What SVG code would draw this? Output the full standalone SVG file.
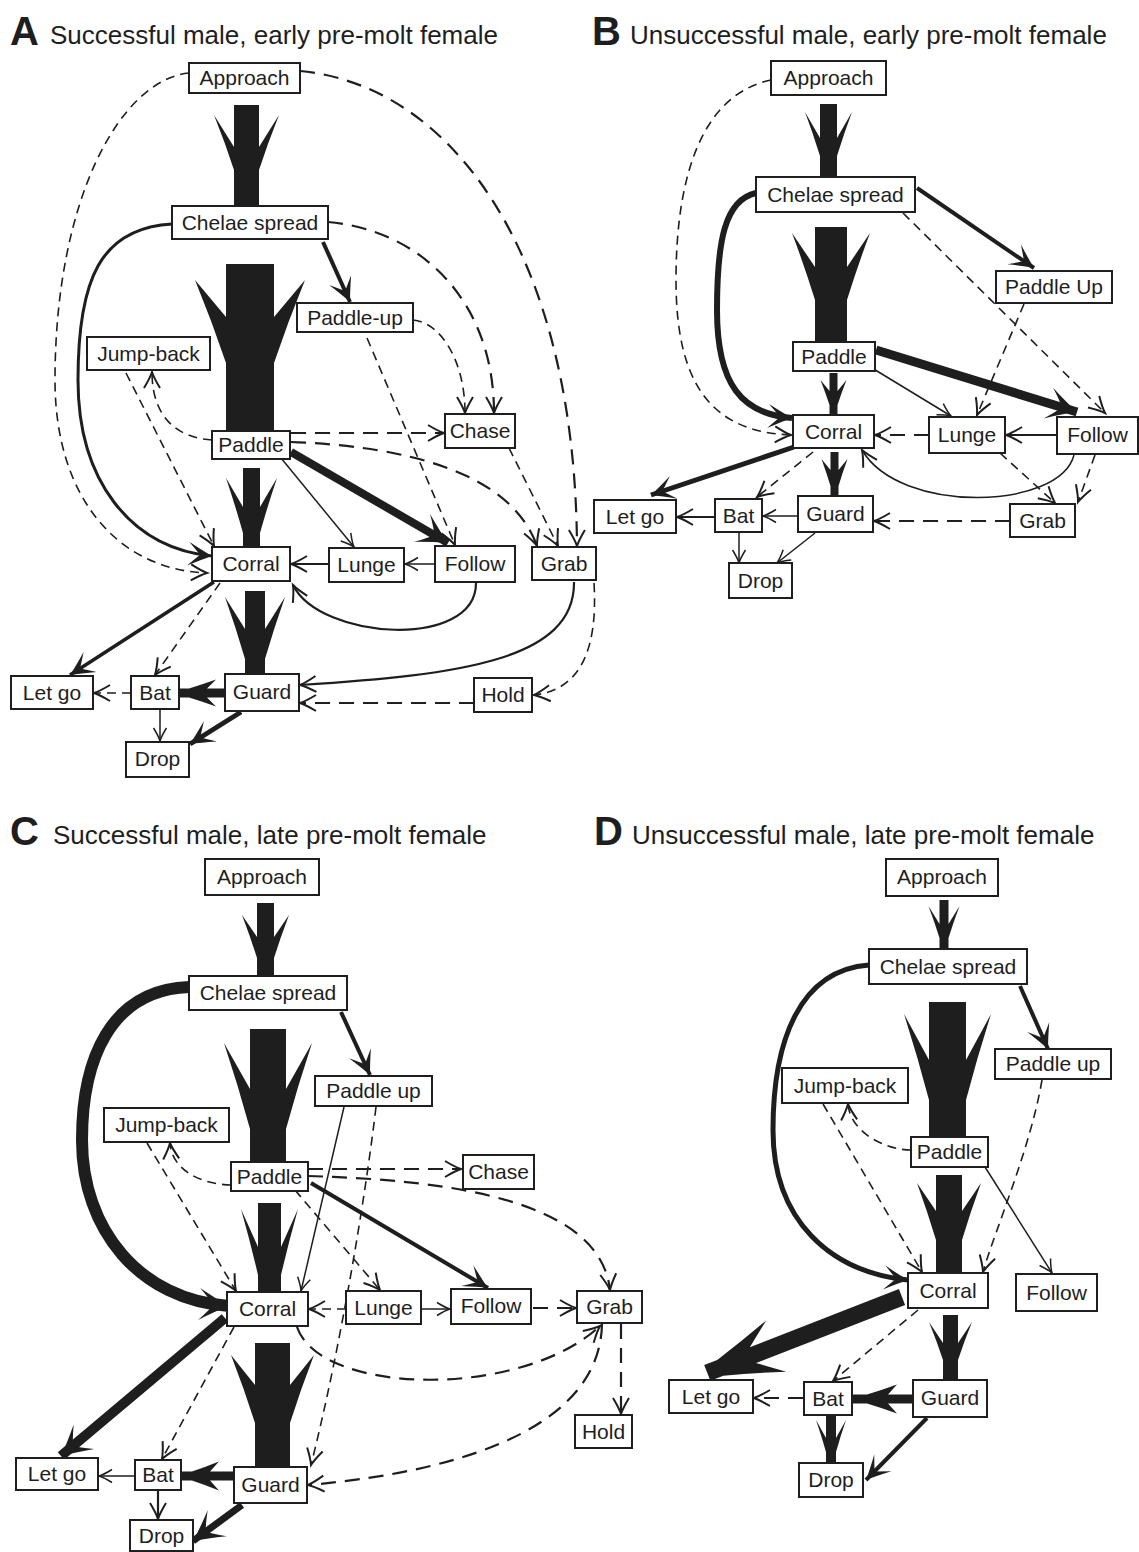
<svg xmlns="http://www.w3.org/2000/svg" width="1139" height="1552" viewBox="0 0 1139 1552">
<style>
.n rect{fill:#fff;stroke:#1e1e1e;stroke-width:2}
.n text{font-family:"Liberation Sans",Arial,sans-serif;font-size:21px;text-anchor:middle;fill:#1e1e1e}
.ttl{font-family:"Liberation Sans",Arial,sans-serif;font-size:26px;fill:#1e1e1e}
.ltr{font-family:"Liberation Sans",Arial,sans-serif;font-size:40px;font-weight:bold;fill:#1e1e1e}
.c path{fill:none;stroke:#1e1e1e}
.c path.bar{fill:#1e1e1e;stroke:none}
.c .t{stroke-width:1.5}
.c .t2{stroke-width:2.2}
.c .m{stroke-width:4}
.c .d{stroke-width:1.6;stroke-dasharray:9 6}
.c .dl{stroke-width:2.2;stroke-dasharray:15 9}
</style>
<defs>
<marker id="s" viewBox="-30 -15 32 30" refX="0" refY="0" markerWidth="32" markerHeight="30" markerUnits="userSpaceOnUse" orient="auto" overflow="visible">
<path d="M-13,-6.5 Q-5,-1.5 0,0 Q-5,1.5 -13,6.5" fill="none" stroke="#1e1e1e" stroke-width="1.5"/>
</marker>
<marker id="sm" viewBox="-30 -15 32 30" refX="0" refY="0" markerWidth="32" markerHeight="30" markerUnits="userSpaceOnUse" orient="auto" overflow="visible">
<path d="M-16,-8 Q-6,-2 0,0 Q-6,2 -16,8" fill="none" stroke="#1e1e1e" stroke-width="2"/>
</marker>
<marker id="mm" viewBox="-30 -15 32 30" refX="0" refY="0" markerWidth="32" markerHeight="30" markerUnits="userSpaceOnUse" orient="auto" overflow="visible">
<path d="M0,0 Q-10,-4.5 -24,-12 Q-15,-3 -12,0 Q-15,3 -24,12 Q-10,4.5 0,0 Z" fill="#1e1e1e"/>
</marker>
<marker id="lm" viewBox="-40 -20 42 40" refX="0" refY="0" markerWidth="42" markerHeight="40" markerUnits="userSpaceOnUse" orient="auto" overflow="visible">
<path d="M0,0 Q-13,-6 -30,-16 Q-19,-5 -16,0 Q-19,5 -30,16 Q-13,6 0,0 Z" fill="#1e1e1e"/>
</marker>
</defs>
<rect width="1139" height="1552" fill="#fff"/>

<g id="titles">
<text class="ltr" x="10" y="45">A</text><text class="ttl" x="50" y="44">Successful male, early pre-molt female</text>
<text class="ltr" x="592" y="45">B</text><text class="ttl" x="630" y="44">Unsuccessful male, early pre-molt female</text>
<text class="ltr" x="10" y="845">C</text><text class="ttl" x="53" y="844">Successful male, late pre-molt female</text>
<text class="ltr" x="594" y="845">D</text><text class="ttl" x="632" y="844">Unsuccessful male, late pre-molt female</text>
</g>

<g id="connectors" class="c">
<!-- Panel A -->
<path class="bar" transform="translate(246.5,105)" d="M-12.5,0H12.5V42L32.5,10Q21.5,37.5 12.5,65V100H-12.5V65Q-21.5,37.5 -32.5,10L-12.5,42Z"/>
<path class="bar" transform="translate(250,264)" d="M-24,0H24V53L55,16Q38,57.5 24,99V167H-24V99Q-38,57.5 -55,16L-24,53Z"/>
<path class="bar" transform="translate(251.5,468)" d="M-8.5,0H8.5V39L25.5,10Q16.2,37.5 8.5,65V79H-8.5V65Q-16.2,37.5 -25.5,10L-8.5,39Z"/>
<path class="bar" transform="translate(255,591)" d="M-10,0H10V38L30,6Q19,37 10,68V83H-10V68Q-19,37 -30,6L-10,38Z"/>
<path class="bar" transform="translate(225,693) rotate(90)" d="M-4.5,0H4.5V18L13.5,9Q8.6,22.5 4.5,36V45H-4.5V36Q-8.6,22.5 -13.5,9L-4.5,18Z"/>
<path style="stroke-width:3" d="M172,224 C100,228 78,280 78,380 C78,480 130,548 212,556" marker-end="url(#mm)"/>
<path class="d" d="M189,73 C120,80 55,200 55,380 C55,500 120,570 207,573" marker-end="url(#sm)"/>
<path class="dl" d="M300,71 C450,85 575,250 577,546" marker-end="url(#sm)"/>
<path class="dl" d="M328,222 C420,230 494,300 494,413" marker-end="url(#sm)"/>
<path class="m" d="M323,242 L350,302" marker-end="url(#mm)"/>
<path class="d" d="M413,320 C440,322 465,360 465,413" marker-end="url(#sm)"/>
<path class="d" d="M367,338 L455,545" marker-end="url(#sm)"/>
<path class="d" d="M126,373 L214,546" marker-end="url(#sm)"/>
<path class="d" d="M212,440 C180,438 152,420 152,372" marker-end="url(#sm)"/>
<path class="dl" d="M291,433 L444,433" marker-end="url(#sm)"/>
<path class="dl" d="M291,442 C400,446 510,470 537,546" marker-end="url(#sm)"/>
<path class="d" d="M509,448 L558,546" marker-end="url(#sm)"/>
<path class="t" d="M281,458 L354,547" marker-end="url(#s)"/>
<path style="stroke-width:8" d="M291,452 L448,543" marker-end="url(#lm)"/>
<path class="t" d="M435,564 L405,564" marker-end="url(#s)"/>
<path class="t2" d="M329,564 L291,564" marker-end="url(#sm)"/>
<path class="t2" d="M476,583 C476,650 320,640 293,585" marker-end="url(#sm)"/>
<path class="t2" d="M574,582 C575,660 460,675 300,685" marker-end="url(#sm)"/>
<path class="d" d="M594,583 C598,650 580,690 534,695" marker-end="url(#sm)"/>
<path class="dl" d="M474,703 L300,703" marker-end="url(#sm)"/>
<path style="stroke-width:3.5" d="M214,582 L70,675" marker-end="url(#mm)"/>
<path class="d" d="M220,583 L155,675" marker-end="url(#sm)"/>
<path class="d" d="M131,693 L94,693" marker-end="url(#sm)"/>
<path class="t" d="M160,710 L160,741" marker-end="url(#s)"/>
<path style="stroke-width:5" d="M241,712 L190,744" marker-end="url(#mm)"/>

<!-- Panel B -->
<path class="bar" transform="translate(828.5,104)" d="M-8.5,0H8.5V34L23.5,8Q15.3,30 8.5,52V73H-8.5V52Q-15.3,30 -23.5,8L-8.5,34Z"/>
<path class="bar" transform="translate(831,227)" d="M-16,0H16V40L39,6Q26.4,39.5 16,73V115H-16V73Q-26.4,39.5 -39,6L-16,40Z"/>
<path class="bar" transform="translate(833.5,373)" d="M-4,0H4V18L13,7Q8.1,19.5 4,32V42H-4V32Q-8.1,19.5 -13,7L-4,18Z"/>
<path class="bar" transform="translate(834.5,452)" d="M-4,0H4V18L13,7Q8.1,20.5 4,34V44H-4V34Q-8.1,20.5 -13,7L-4,18Z"/>
<path class="m" d="M917,188 L1034,268" marker-end="url(#mm)"/>
<path style="stroke-width:6" d="M756,193 C725,200 717,240 717,310 C717,385 742,414 792,418" marker-end="url(#mm)"/>
<path class="d" d="M771,80 C700,95 676,180 676,280 C676,385 712,432 791,435" marker-end="url(#sm)"/>
<path class="d" d="M903,213 L1105,413" marker-end="url(#sm)"/>
<path class="d" d="M1024,304 L977,415" marker-end="url(#sm)"/>
<path class="t" d="M872,368 L951,416" marker-end="url(#s)"/>
<path style="stroke-width:9" d="M876,350 L1077,412" marker-end="url(#lm)"/>
<path class="dl" d="M929,435 L875,435" marker-end="url(#sm)"/>
<path class="t2" d="M1057,435 L1006,435" marker-end="url(#sm)"/>
<path class="d" d="M1000,453 L1055,503" marker-end="url(#sm)"/>
<path class="d" d="M1095,455 L1078,502" marker-end="url(#sm)"/>
<path class="t" d="M1074,455 C1060,510 900,515 862,450" marker-end="url(#sm)"/>
<path class="dl" d="M1010,521 L874,521" marker-end="url(#sm)"/>
<path style="stroke-width:5" d="M794,447 L651,495" marker-end="url(#mm)"/>
<path class="d" d="M813,452 L757,497" marker-end="url(#sm)"/>
<path class="t" d="M798,516 L763,516" marker-end="url(#s)"/>
<path class="t2" d="M715,517 L677,517" marker-end="url(#sm)"/>
<path class="t" d="M739,533 L739,563" marker-end="url(#s)"/>
<path class="t" d="M815,533 L777,563" marker-end="url(#s)"/>

<!-- Panel C -->
<path class="bar" transform="translate(265.5,903)" d="M-8.5,0H8.5V34L23.5,12Q15.3,33.5 8.5,55V73H-8.5V55Q-15.3,33.5 -23.5,12L-8.5,34Z"/>
<path class="bar" transform="translate(268,1029)" d="M-18,0H18V60L44,14Q29.7,57 18,100V133H-18V100Q-29.7,57 -44,14L-18,60Z"/>
<path class="bar" transform="translate(269.5,1203)" d="M-11.5,0H11.5V44L28.5,6Q19.2,39 11.5,72V89H-11.5V72Q-19.2,39 -28.5,6L-11.5,44Z"/>
<path class="bar" transform="translate(272.5,1343)" d="M-17.5,0H17.5V42L41.5,12Q28.3,46 17.5,80V124H-17.5V80Q-28.3,46 -41.5,12L-17.5,42Z"/>
<path class="bar" transform="translate(234,1476) rotate(90)" d="M-4.5,0H4.5V24L14.5,15Q9,28.5 4.5,42V52H-4.5V42Q-9,28.5 -14.5,15L-4.5,24Z"/>
<path style="stroke-width:12" d="M189,987 C110,990 82,1060 82,1140 C82,1230 140,1300 229,1306" marker-end="url(#lm)"/>
<path class="m" d="M341,1012 L370,1075" marker-end="url(#mm)"/>
<path class="t" d="M344,1107 L301,1291" marker-end="url(#s)"/>
<path class="d" d="M376,1107 C365,1200 340,1350 311,1465" marker-end="url(#sm)"/>
<path class="d" d="M147,1143 L236,1291" marker-end="url(#sm)"/>
<path class="d" d="M231,1185 C200,1184 172,1170 170,1143" marker-end="url(#sm)"/>
<path class="dl" d="M308,1169 L461,1169" marker-end="url(#sm)"/>
<path class="dl" d="M308,1176 C450,1180 600,1200 610,1290" marker-end="url(#sm)"/>
<path class="d" d="M295,1190 L380,1290" marker-end="url(#sm)"/>
<path class="m" d="M311,1183 L488,1288" marker-end="url(#mm)"/>
<path class="d" d="M346,1309 L309,1309" marker-end="url(#sm)"/>
<path class="t" d="M421,1309 L450,1309" marker-end="url(#s)"/>
<path class="dl" d="M533,1308 L576,1308" marker-end="url(#sm)"/>
<path class="dl" d="M297,1327 C320,1395 520,1400 600,1326" marker-end="url(#sm)"/>
<path class="dl" d="M602,1324 C600,1420 480,1470 308,1485" marker-end="url(#sm)"/>
<path class="dl" d="M621,1324 L621,1414" marker-end="url(#sm)"/>
<path style="stroke-width:10" d="M225,1318 L61,1456" marker-end="url(#lm)"/>
<path class="d" d="M234,1327 L162,1459" marker-end="url(#sm)"/>
<path class="t" d="M135,1476 L99,1476" marker-end="url(#s)"/>
<path class="t2" d="M158,1490 L158,1519" marker-end="url(#sm)"/>
<path style="stroke-width:7" d="M242,1505 L193,1541" marker-end="url(#lm)"/>

<!-- Panel D -->
<path class="bar" transform="translate(944,900)" d="M-4.5,0H4.5V24L15.5,6Q9.5,22 4.5,38V49H-4.5V38Q-9.5,22 -15.5,6L-4.5,24Z"/>
<path class="bar" transform="translate(947.5,1002)" d="M-18.5,0H18.5V58L43.5,12Q29.8,55 18.5,98V135H-18.5V98Q-29.8,55 -43.5,12L-18.5,58Z"/>
<path class="bar" transform="translate(949,1175)" d="M-13,0H13V36L32,8Q21.6,36.5 13,65V98H-13V65Q-21.6,36.5 -32,8L-13,36Z"/>
<path class="bar" transform="translate(950.5,1315)" d="M-7.5,0H7.5V28L21.5,7Q13.8,26 7.5,45V65H-7.5V45Q-13.8,26 -21.5,7L-7.5,28Z"/>
<path class="bar" transform="translate(912,1399) rotate(90)" d="M-4.5,0H4.5V24L14.5,15Q9,30 4.5,45V59H-4.5V45Q-9,30 -14.5,15L-4.5,24Z"/>
<path class="bar" transform="translate(831,1416)" d="M-5,0H5V22L15,4Q9.5,20 5,36V47H-5V36Q-9.5,20 -15,4L-5,22Z"/>
<path class="bar" transform="translate(902,1297) rotate(68.7)" d="M-8.5,0H8.5V160L27.5,135Q17.1,165 8.5,195V209H-8.5V195Q-17.1,165 -27.5,135L-8.5,160Z"/>
<path style="stroke-width:5" d="M869,965 C800,970 773,1040 773,1130 C773,1220 830,1272 908,1280" marker-end="url(#mm)"/>
<path class="m" d="M1020,986 L1048,1049" marker-end="url(#mm)"/>
<path class="d" d="M1042,1080 C1030,1150 995,1230 983,1272" marker-end="url(#sm)"/>
<path class="d" d="M823,1104 L922,1272" marker-end="url(#sm)"/>
<path class="d" d="M911,1150 C885,1150 850,1132 848,1104" marker-end="url(#sm)"/>
<path class="t" d="M985,1167 L1052,1273" marker-end="url(#s)"/>
<path class="d" d="M918,1310 L833,1381" marker-end="url(#sm)"/>
<path class="dl" d="M803,1398 L754,1398" marker-end="url(#sm)"/>
<path class="m" d="M927,1418 L866,1480" marker-end="url(#mm)"/>
</g>

<!-- Panel A nodes -->
<g id="a-approach" class="n"><rect x="189" y="63" width="111" height="30"/><text x="244.5" y="85">Approach</text></g>
<g id="a-chelae" class="n"><rect x="172" y="206" width="156" height="33"/><text x="250" y="230">Chelae spread</text></g>
<g id="a-paddleup" class="n"><rect x="297" y="303" width="116" height="29"/><text x="355" y="325">Paddle-up</text></g>
<g id="a-jumpback" class="n"><rect x="87" y="337" width="123" height="33"/><text x="148.5" y="361">Jump-back</text></g>
<g id="a-paddle" class="n"><rect x="212" y="431" width="78" height="28"/><text x="251" y="452">Paddle</text></g>
<g id="a-chase" class="n"><rect x="445" y="414" width="70" height="34"/><text x="480" y="438">Chase</text></g>
<g id="a-corral" class="n"><rect x="212" y="547" width="78" height="34"/><text x="251" y="571">Corral</text></g>
<g id="a-lunge" class="n"><rect x="329" y="548" width="75" height="34"/><text x="366.5" y="572">Lunge</text></g>
<g id="a-follow" class="n"><rect x="435" y="546" width="80" height="36"/><text x="475" y="571">Follow</text></g>
<g id="a-grab" class="n"><rect x="532" y="547" width="64" height="33"/><text x="564" y="571">Grab</text></g>
<g id="a-letgo" class="n"><rect x="11" y="676" width="82" height="33"/><text x="52" y="700">Let go</text></g>
<g id="a-bat" class="n"><rect x="131" y="676" width="48" height="33"/><text x="155" y="700">Bat</text></g>
<g id="a-guard" class="n"><rect x="225" y="674" width="74" height="37"/><text x="262" y="699">Guard</text></g>
<g id="a-hold" class="n"><rect x="474" y="678" width="58" height="34"/><text x="503" y="702">Hold</text></g>
<g id="a-drop" class="n"><rect x="126" y="742" width="63" height="35"/><text x="157.5" y="766">Drop</text></g>

<!-- Panel B nodes -->
<g id="b-approach" class="n"><rect x="771" y="61" width="115" height="34"/><text x="828.5" y="85">Approach</text></g>
<g id="b-chelae" class="n"><rect x="756" y="177" width="159" height="35"/><text x="835.5" y="202">Chelae spread</text></g>
<g id="b-paddleup" class="n"><rect x="996" y="271" width="116" height="32"/><text x="1054" y="294">Paddle Up</text></g>
<g id="b-paddle" class="n"><rect x="793" y="342" width="82" height="29"/><text x="834" y="364">Paddle</text></g>
<g id="b-corral" class="n"><rect x="793" y="415" width="81" height="33"/><text x="833.5" y="439">Corral</text></g>
<g id="b-lunge" class="n"><rect x="929" y="417" width="76" height="36"/><text x="967" y="442">Lunge</text></g>
<g id="b-follow" class="n"><rect x="1057" y="417" width="81" height="37"/><text x="1097.5" y="442">Follow</text></g>
<g id="b-letgo" class="n"><rect x="594" y="500" width="82" height="33"/><text x="635" y="524">Let go</text></g>
<g id="b-bat" class="n"><rect x="715" y="499" width="47" height="33"/><text x="738.5" y="523">Bat</text></g>
<g id="b-guard" class="n"><rect x="798" y="496" width="75" height="36"/><text x="835.5" y="521">Guard</text></g>
<g id="b-grab" class="n"><rect x="1010" y="504" width="65" height="33"/><text x="1042.5" y="528">Grab</text></g>
<g id="b-drop" class="n"><rect x="729" y="563" width="63" height="35"/><text x="760.5" y="588">Drop</text></g>

<!-- Panel C nodes -->
<g id="c-approach" class="n"><rect x="205" y="859" width="114" height="36"/><text x="262" y="884">Approach</text></g>
<g id="c-chelae" class="n"><rect x="189" y="976" width="158" height="34"/><text x="268" y="1000">Chelae spread</text></g>
<g id="c-paddleup" class="n"><rect x="315" y="1076" width="117" height="30"/><text x="373.5" y="1098">Paddle up</text></g>
<g id="c-jumpback" class="n"><rect x="104" y="1108" width="125" height="34"/><text x="166.5" y="1132">Jump-back</text></g>
<g id="c-paddle" class="n"><rect x="231" y="1162" width="77" height="29"/><text x="269.5" y="1184">Paddle</text></g>
<g id="c-chase" class="n"><rect x="463" y="1155" width="71" height="34"/><text x="498.5" y="1179">Chase</text></g>
<g id="c-corral" class="n"><rect x="227" y="1292" width="81" height="34"/><text x="267.5" y="1316">Corral</text></g>
<g id="c-lunge" class="n"><rect x="346" y="1291" width="75" height="33"/><text x="383.5" y="1315">Lunge</text></g>
<g id="c-follow" class="n"><rect x="451" y="1289" width="80" height="35"/><text x="491" y="1313">Follow</text></g>
<g id="c-grab" class="n"><rect x="577" y="1291" width="65" height="32"/><text x="609.5" y="1314">Grab</text></g>
<g id="c-hold" class="n"><rect x="575" y="1415" width="57" height="33"/><text x="603.5" y="1439">Hold</text></g>
<g id="c-letgo" class="n"><rect x="16" y="1458" width="82" height="32"/><text x="57" y="1481">Let go</text></g>
<g id="c-bat" class="n"><rect x="135" y="1460" width="46" height="30"/><text x="158" y="1482">Bat</text></g>
<g id="c-guard" class="n"><rect x="234" y="1467" width="73" height="36"/><text x="270.5" y="1492">Guard</text></g>
<g id="c-drop" class="n"><rect x="130" y="1520" width="63" height="31"/><text x="161.5" y="1543">Drop</text></g>

<!-- Panel D nodes -->
<g id="d-approach" class="n"><rect x="886" y="859" width="112" height="37"/><text x="942" y="884">Approach</text></g>
<g id="d-chelae" class="n"><rect x="869" y="949" width="158" height="35"/><text x="948" y="974">Chelae spread</text></g>
<g id="d-paddleup" class="n"><rect x="995" y="1049" width="116" height="30"/><text x="1053" y="1071">Paddle up</text></g>
<g id="d-jumpback" class="n"><rect x="782" y="1068" width="126" height="35"/><text x="845" y="1093">Jump-back</text></g>
<g id="d-paddle" class="n"><rect x="911" y="1137" width="77" height="30"/><text x="949.5" y="1159">Paddle</text></g>
<g id="d-corral" class="n"><rect x="908" y="1273" width="80" height="35"/><text x="948" y="1298">Corral</text></g>
<g id="d-follow" class="n"><rect x="1016" y="1274" width="81" height="37"/><text x="1056.5" y="1300">Follow</text></g>
<g id="d-letgo" class="n"><rect x="669" y="1380" width="84" height="33"/><text x="711" y="1404">Let go</text></g>
<g id="d-bat" class="n"><rect x="804" y="1382" width="48" height="33"/><text x="828" y="1406">Bat</text></g>
<g id="d-guard" class="n"><rect x="913" y="1380" width="74" height="37"/><text x="950" y="1405">Guard</text></g>
<g id="d-drop" class="n"><rect x="799" y="1463" width="64" height="34"/><text x="831" y="1487">Drop</text></g>
</svg>
